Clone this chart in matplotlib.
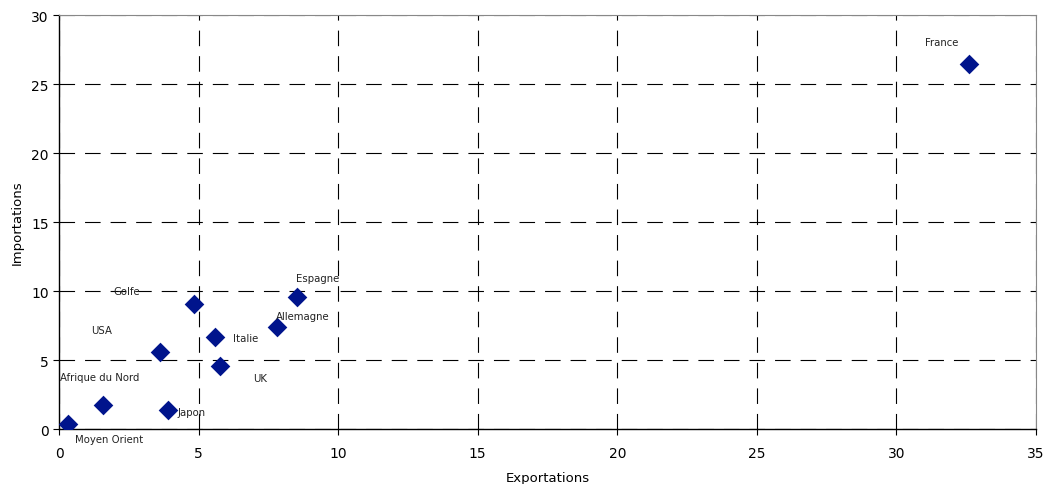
import matplotlib
matplotlib.use("Agg")
import matplotlib.pyplot as plt

# Exportations / importations par partenaire
pays = ["France", "Espagne", "Allemagne", "Golfe", "Italie", "UK", "USA",
        "Afrique du Nord", "Japon", "Moyen Orient"]
exportations = [32.6, 8.53, 7.81, 4.84, 5.59, 5.77, 3.62, 1.58, 3.9, 0.32]
importations = [26.45, 9.54, 7.4, 9.06, 6.65, 4.57, 5.59, 1.77, 1.41, 0.34]

# label anchor positions (data coordinates)
label_x = [31.64, 9.28, 8.74, 2.44, 6.7, 7.2, 1.54, 1.47, 4.76, 1.79]
label_y = [28.04, 10.94, 8.19, 10.0, 6.59, 3.70, 7.17, 3.77, 1.23, -0.72]

plt.rcParams["font.family"] = ["DejaVu Sans"]

fig = plt.figure(figsize=(10.48, 4.85), dpi=100)
ax = fig.add_axes([0.0563, 0.1134, 0.9322, 0.8536])

ax.set_xlim(0, 35)
ax.set_ylim(0, 30)
ax.set_xticks(range(0, 36, 5))
ax.set_yticks(range(0, 31, 5))

ax.grid(True, color="black", linewidth=0.8, linestyle=(0, (14, 9)))
ax.set_axisbelow(True)

ax.scatter(exportations, importations, marker="D", s=100, color="#00148C",
           zorder=3, linewidths=0)

for name, lx, ly in zip(pays, label_x, label_y):
    ax.text(lx, ly, name, fontsize=7.3, ha="center", va="center",
            color="#222222", zorder=4, clip_on=False)

for side in ["top", "right"]:
    ax.spines[side].set_color("#888888")
    ax.spines[side].set_linewidth(0.8)
for side in ["left", "bottom"]:
    ax.spines[side].set_color("black")
    ax.spines[side].set_linewidth(1.0)

ax.tick_params(axis="both", labelsize=10, length=4, width=0.8, direction="out")
ax.tick_params(axis="x", pad=8)
ax.set_xlabel("Exportations", fontsize=9.5, labelpad=8)
ax.set_ylabel("Importations", fontsize=9.5, labelpad=5)

fig.savefig("out.png", dpi=100)
